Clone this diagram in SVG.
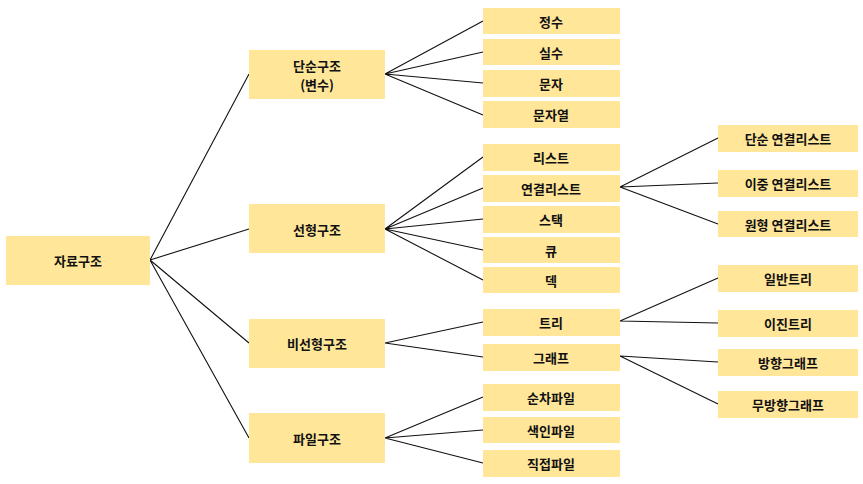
<svg xmlns="http://www.w3.org/2000/svg" width="863" height="484" viewBox="0 0 863 484">
<style>
.b{fill:#FFE699;}
.t{font-family:"Noto Sans CJK KR","Noto Sans",sans-serif;font-weight:bold;font-size:13px;fill:#111;text-anchor:middle;dominant-baseline:central;}
.c{stroke:#111;stroke-width:1.1;fill:none;}
</style>
<rect width="863" height="484" fill="#fff"/>
<g id="connectors" class="c">
<path d="M150 260L249 74M150 260L249 229M150 260L249 343M150 260L249 438"/>
<path d="M385 74L483 21M385 74L483 52M385 74L483 83M385 74L483 115"/>
<path d="M385 229L483 157M385 229L483 188M385 229L483 219M385 229L483 250M385 229L483 280"/>
<path d="M385 343L483 322M385 343L483 357"/>
<path d="M385 438L483 397M385 438L483 430M385 438L483 463"/>
<path d="M620 187L718 138M620 187L718 183M620 187L718 224"/>
<path d="M620 321L718 278M620 321L718 323M620 356L718 362M620 356L718 404"/>
</g>
<g id="n-root"><rect class="b" x="6" y="236" width="144" height="49"/><text class="t" x="78" y="260">자료구조</text></g>
<g id="n-simple"><rect class="b" x="249" y="50" width="136" height="49"/><text class="t" x="317" y="65">단순구조</text><text class="t" x="317" y="84">(변수)</text></g>
<g id="n-linear"><rect class="b" x="249" y="204" width="136" height="49"/><text class="t" x="317" y="229">선형구조</text></g>
<g id="n-nonlinear"><rect class="b" x="249" y="319" width="136" height="49"/><text class="t" x="317" y="343">비선형구조</text></g>
<g id="n-file"><rect class="b" x="249" y="413" width="136" height="50"/><text class="t" x="317" y="438">파일구조</text></g>
<g id="n-int"><rect class="b" x="483" y="8" width="137" height="26"/><text class="t" x="551" y="21">정수</text></g>
<g id="n-real"><rect class="b" x="483" y="39" width="137" height="26"/><text class="t" x="551" y="52">실수</text></g>
<g id="n-char"><rect class="b" x="483" y="70" width="137" height="27"/><text class="t" x="551" y="83">문자</text></g>
<g id="n-string"><rect class="b" x="483" y="101" width="137" height="27"/><text class="t" x="551" y="114">문자열</text></g>
<g id="n-list"><rect class="b" x="483" y="144" width="137" height="27"/><text class="t" x="551" y="157">리스트</text></g>
<g id="n-linked"><rect class="b" x="483" y="175" width="137" height="27"/><text class="t" x="551" y="188">연결리스트</text></g>
<g id="n-stack"><rect class="b" x="483" y="206" width="137" height="27"/><text class="t" x="551" y="219">스택</text></g>
<g id="n-queue"><rect class="b" x="483" y="237" width="137" height="26"/><text class="t" x="551" y="250">큐</text></g>
<g id="n-deque"><rect class="b" x="483" y="267" width="137" height="26"/><text class="t" x="551" y="280">덱</text></g>
<g id="n-tree"><rect class="b" x="483" y="309" width="137" height="27"/><text class="t" x="551" y="322">트리</text></g>
<g id="n-graph"><rect class="b" x="483" y="344" width="137" height="27"/><text class="t" x="551" y="357">그래프</text></g>
<g id="n-seq"><rect class="b" x="483" y="384" width="137" height="27"/><text class="t" x="551" y="397">순차파일</text></g>
<g id="n-idx"><rect class="b" x="483" y="417" width="137" height="26"/><text class="t" x="551" y="430">색인파일</text></g>
<g id="n-direct"><rect class="b" x="483" y="450" width="137" height="27"/><text class="t" x="551" y="463">직접파일</text></g>
<g id="n-sll"><rect class="b" x="718" y="125" width="140" height="27"/><text class="t" x="788" y="138">단순 연결리스트</text></g>
<g id="n-dll"><rect class="b" x="718" y="170" width="140" height="27"/><text class="t" x="788" y="183">이중 연결리스트</text></g>
<g id="n-cll"><rect class="b" x="718" y="211" width="140" height="26"/><text class="t" x="788" y="224">원형 연결리스트</text></g>
<g id="n-gtree"><rect class="b" x="718" y="265" width="140" height="27"/><text class="t" x="788" y="278">일반트리</text></g>
<g id="n-btree"><rect class="b" x="718" y="310" width="140" height="27"/><text class="t" x="788" y="323">이진트리</text></g>
<g id="n-dgraph"><rect class="b" x="718" y="349" width="140" height="27"/><text class="t" x="788" y="362">방향그래프</text></g>
<g id="n-ugraph"><rect class="b" x="718" y="391" width="140" height="27"/><text class="t" x="788" y="404">무방향그래프</text></g>
</svg>
